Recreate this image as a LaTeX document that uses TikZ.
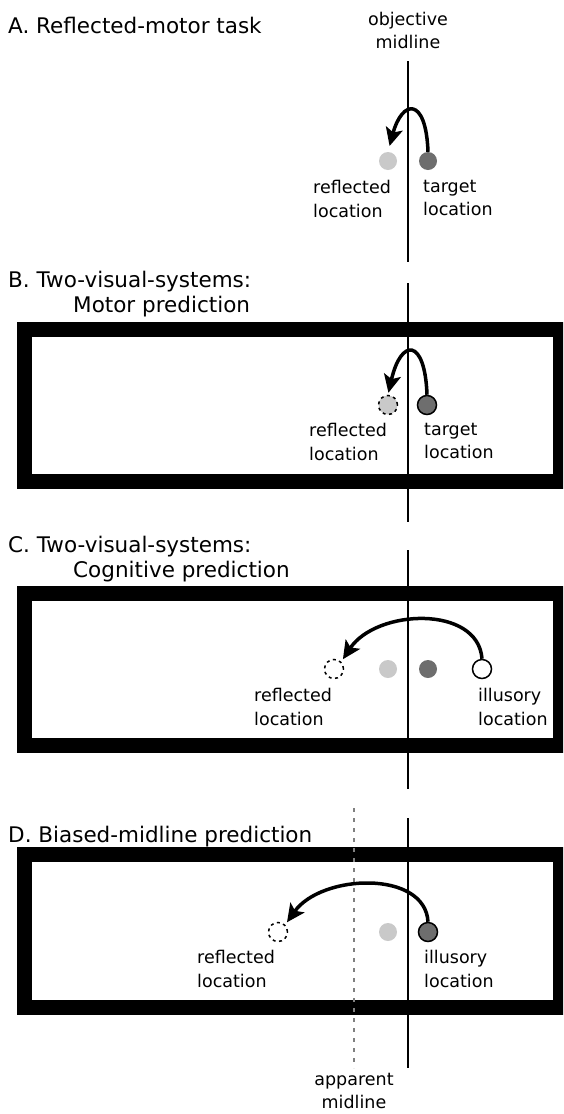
\documentclass[tikz,border=0pt]{standalone}
\usepackage{fontspec}
\setmainfont{DejaVu Sans}
\usetikzlibrary{arrows.meta}
\definecolor{lightdot}{gray}{0.79}
\definecolor{darkdot}{gray}{0.43}

\begin{document}
\begin{tikzpicture}[x=1pt, y=-1pt,
	head/.style={anchor=base west, inner sep=0, font=\fontsize{21.5}{25}\selectfont},
	lbl/.style={anchor=north west, inner sep=0, align=left, font=\fontsize{17.5}{23.5}\selectfont},
	spot/.style={circle, minimum size=18pt, inner sep=0},
	ringed/.style={spot, draw, line width=1.5pt, minimum size=19pt},
	ghost/.style={spot, draw, dash pattern=on 3pt off 3.5pt, line width=1.5pt, minimum size=19pt},
	panel/.style={line width=15pt},
	mid/.style={line width=1.3pt},
	apparent/.style={gray, line width=1.3pt, dash pattern=on 4pt off 6pt},
	swing/.style={line width=3.5pt, -{Stealth[length=18pt, width=17pt, inset=4pt]}}]
	\useasboundingbox (0,0) rectangle (563,1114);
	\clip (0,0) rectangle (563,1114);
	% A. reflected-motor task
	\node[head] (headA) at (8,33) {A. Reflected-motor task};
	\node[lbl, anchor=north, align=center] (objA) at (408,12) {objective\\midline};
	\draw[mid] (408,61) -- (408,262);
	\node[spot, fill=lightdot] (reflA) at (388,161) {};
	\node[spot, fill=darkdot] (tgtA) at (428,161) {};
	\node[lbl] (reflAtxt) at (313,180) {reflected\\location};
	\node[lbl] (tgtAtxt) at (423,180) {target\\location};
	\draw[swing, shorten >=6pt] (tgtA.north) .. controls +(-2,-56) and +(14,-52) .. (reflA.north);
	% B. motor prediction
	\node[head] (headB) at (8,287) {B. Two-visual-systems:};
	\node[head] (subB) at (73,312) {Motor prediction};
	\draw[panel] (24.5,329.5) rectangle (560.5,481.5);
	\draw[mid] (408,283) -- (408,522);
	\node[ghost, fill=lightdot] (reflB) at (388,405) {};
	\node[ringed, fill=darkdot] (tgtB) at (427,405) {};
	\node[lbl] (reflBtxt) at (309,423) {reflected\\location};
	\node[lbl] (tgtBtxt) at (424,423) {target\\location};
	\draw[swing, shorten >=2pt] (tgtB.north) .. controls +(-2,-57) and +(13,-57) .. (reflB.north);
	% C. cognitive prediction
	\node[head] (headC) at (8,552) {C. Two-visual-systems:};
	\node[head] (subC) at (73,577) {Cognitive prediction};
	\draw[panel] (24.5,593.5) rectangle (560.5,745.5);
	\draw[mid] (408,550) -- (408,789);
	\node[ghost] (reflC) at (334,669) {};
	\node[spot, fill=lightdot] (oldC) at (388,669) {};
	\node[spot, fill=darkdot] (tgtC) at (428,669) {};
	\node[ringed, fill=white] (illC) at (482,669) {};
	\node[lbl] (reflCtxt) at (254,688) {reflected\\location};
	\node[lbl] (illCtxt) at (478,688) {illusory\\location};
	\draw[swing, shorten >=3pt] (illC.north) .. controls +(-4,-54) and +(35,-53) .. (reflC.north east);
	% D. biased midline
	\node[head] (headD) at (8,842) {D. Biased-midline prediction};
	\draw[panel] (24.5,854.5) rectangle (560.5,1007.5);
	\draw[mid] (408,818) -- (408,1068);
	\draw[apparent] (354,808) -- (354,1068);
	\node[ghost] (reflD) at (278,932) {};
	\node[spot, fill=lightdot] (oldD) at (388,932) {};
	\node[ringed, fill=darkdot] (illD) at (428,932) {};
	\node[lbl] (reflDtxt) at (197,950) {reflected\\location};
	\node[lbl] (illDtxt) at (424,950) {illusory\\location};
	\node[lbl, anchor=north, align=center, font=\fontsize{17.5}{23}\selectfont] (appD) at (354,1073) {apparent\\midline};
	\draw[swing, shorten >=3pt] (illD.north) .. controls +(-3,-52) and +(36,-51) .. (reflD.north east);
\end{tikzpicture}
\end{document}
